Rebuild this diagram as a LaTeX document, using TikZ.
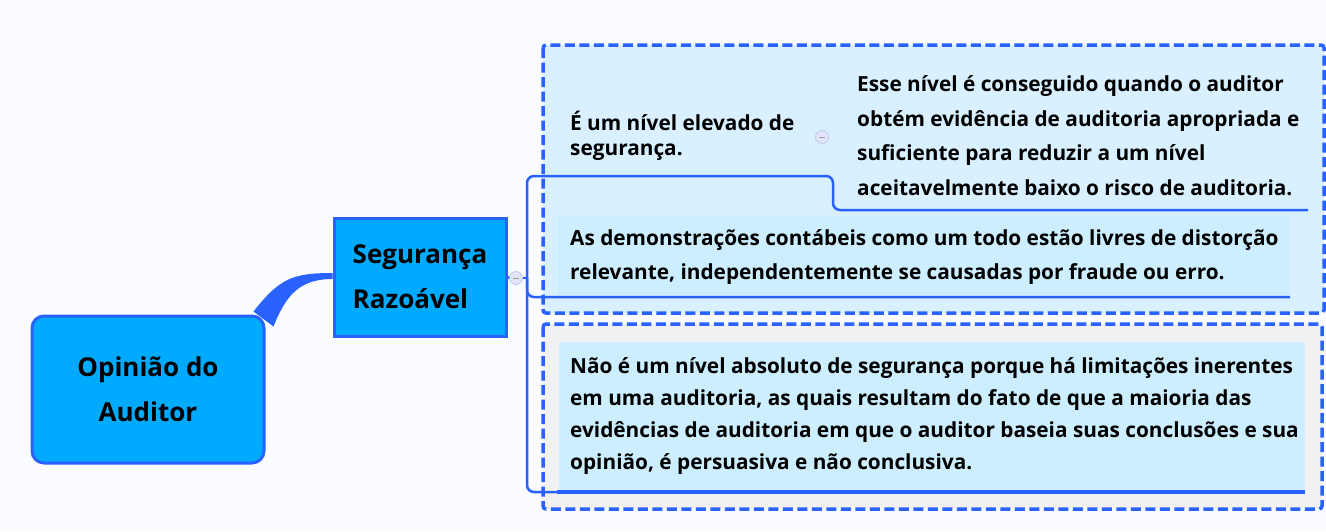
\documentclass[tikz,border=0pt]{standalone}
\usepackage{fontspec}
\setmainfont{Open Sans}
\usetikzlibrary{calc}
\definecolor{lineblue}{HTML}{2962FF}
\definecolor{nodefill}{HTML}{00AAFF}
\definecolor{bndfill}{HTML}{D8F0FF}
\definecolor{txtfill}{HTML}{CCEEFF}
\definecolor{grayfill}{HTML}{F1F1F1}
\definecolor{bgcol}{HTML}{FAFCFF}
\definecolor{knobfill}{HTML}{E2E6F8}
\definecolor{knobline}{HTML}{BCC6EE}
\begin{document}
\begin{tikzpicture}[x=1pt,y=-1pt,
  mainbox/.style={draw=lineblue, line width=3pt, fill=nodefill, inner sep=0pt, font=\bfseries\fontsize{26}{45}\selectfont},
  boundary/.style={draw=lineblue, line width=3.5pt, dash pattern=on 10pt off 4.5pt, rounded corners=3pt},
  conn/.style={draw=lineblue, line width=2.5pt, rounded corners=7pt},
  topic/.style={anchor=base west, inner sep=0pt, align=left},
  knob/.style={circle, draw=knobline, fill=knobfill, minimum size=13pt, inner sep=0pt, line width=0.8pt,
    path picture={\draw[black!40, line width=0.8pt] ($(path picture bounding box.center)+(-3,0)$) -- ++(6,0);}},
]
\useasboundingbox (0,0) rectangle (1326,531);
\fill[bgcol] (0,0) rectangle (1326,531);

% boundaries
\draw[boundary, fill=bndfill] (543,45) rectangle (1324,313);
\draw[boundary, fill=grayfill] (543,324) rectangle (1322,509);
\fill[txtfill] (557,216) rectangle (1290,297);
\fill[txtfill] (559,342) rectangle (1305,492);

% main nodes
\node[mainbox, rounded corners=12pt, minimum width=232pt, minimum height=147pt, align=center] (root) at (148,389.5) {Opinião do\\Auditor};
\node[mainbox, minimum width=172pt, minimum height=118pt, align=left] (seg) at (420,277) {Segurança\\Razoável};

% tapered connector
\fill[lineblue] ($(root.north east)+(-12,-3)$) .. controls ($(root.north east)+(14,-36)$) and ($(seg.west)+(-40,-4)$) .. ($(seg.west)+(0,-4)$)
  -- ($(seg.west)+(0,2)$) .. controls ($(seg.west)+(-34,2)$) and ($(root.north east)+(20,-18)$) .. ($(root.north east)+(8,12)$) -- cycle;

% knobs
\node[knob] (k1) at (516,278) {};
\node[knob] (k2) at (822,137) {};

% topics (anchored at the baseline of the last line)
\node[topic, font=\bfseries\fontsize{20.8}{25}\selectfont] (t1) at (570,155) {É um nível elevado de\\segurança.};
\node[topic, font=\bfseries\fontsize{20.8}{34.5}\selectfont] (t2) at (857,195) {Esse nível é conseguido quando o auditor\\obtém evidência de auditoria apropriada e\\suficiente para reduzir a um nível\\aceitavelmente baixo o risco de auditoria.};
\node[topic, font=\bfseries\fontsize{20.8}{34}\selectfont] (t3) at (570,279) {As demonstrações contábeis como um todo estão livres de distorção\\relevante, independentemente se causadas por fraude ou erro.};
\node[topic, font=\bfseries\fontsize{20.8}{31.7}\selectfont] (t4) at (570,469) {Não é um nível absoluto de segurança porque há limitações inerentes\\em uma auditoria, as quais resultam do fato de que a maioria das\\evidências de auditoria em que o auditor baseia suas conclusões e sua\\opinião, é persuasiva e não conclusiva.};

% connectors
\coordinate (br) at (527,278);
\coordinate (st) at (833,176);
\draw[conn] (seg.east) -- (k1.west);
\draw[conn] (k1.east) -- (br);
\draw[conn] (br) -- (br |- st) -- (st) -- ($(st)+(0,34)$) -- (1308,210);
\draw[conn] (br) -- (527,297) -- (1290,297);
\draw[conn] (br) -- (527,492) -- (560,492);
\draw[lineblue, line width=4pt] (557,492) -- (1305,492);
\end{tikzpicture}
\end{document}
